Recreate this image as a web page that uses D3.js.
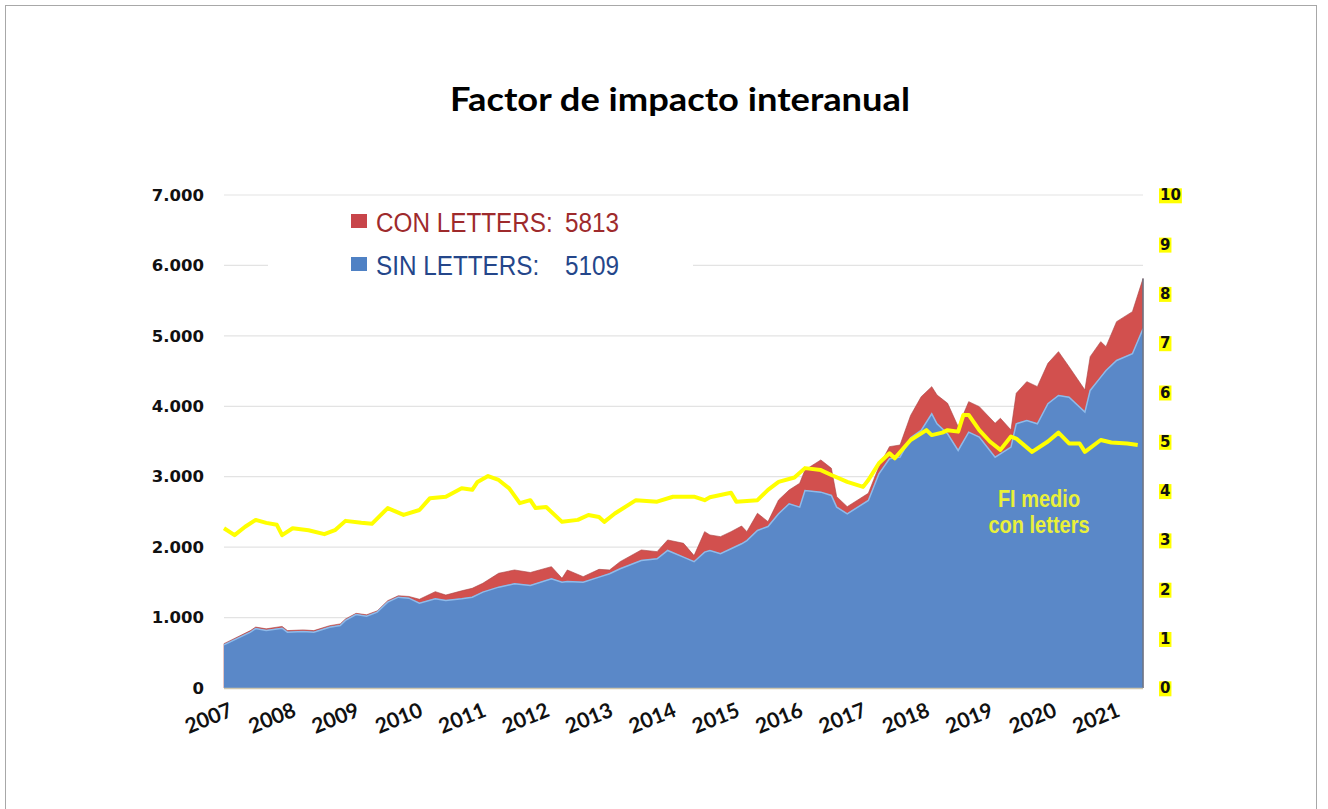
<!DOCTYPE html>
<html>
<head>
<meta charset="utf-8">
<script src="https://cdn.jsdelivr.net/npm/d3@7"></script>
<style>
  body { margin: 0; background: #fff; }
  svg { display: block; }
</style>
</head>
<body>
<div id="chart"></div>
<script>
// meses contados desde enero 2007
var meses = [0,5,6,8,11,12,15,17,20,22, 23,25,27,29,31,33,35,37,40,42,
  45,47,49,52,55,58,62,64,65,68, 71,73,75,79,82,84,87,89,91,92,
  94,96,98,99,101,103,105,107,109,110, 113,115,116,118,120,122,124,126,128,130,
  132,134,135,137,139,141,143,146,147,149, 150,152,154,156,158,160,163,164,166,167,
  169,172,174];

var sinLetters = [620,800,850,823,856,800,810,800,870,895, 966,1050,1027,1084,1226,1297,1283,1210,1274,1250,
  1275,1297,1368,1439,1487,1463,1558,1510,1520,1510, 1581,1629,1700,1818,1841,1960,1865,1800,1936,1960,
  1913,1984,2055,2100,2244,2300,2481,2623,2575,2812, 2788,2741,2575,2481,2575,2670,3049,3262,3285,3560,
  3664,3900,3759,3617,3380,3640,3569,3285,3333,3427, 3759,3805,3759,4043,4160,4136,3924,4232,4421,4516,
  4658,4753,5109];

var conLetters = [630,815,865,840,875,815,825,815,885,910, 980,1060,1040,1095,1240,1310,1300,1260,1368,1320,
  1380,1416,1487,1629,1676,1640,1723,1558,1676,1581, 1685,1676,1794,1960,1936,2102,2055,1880,2220,2173,
  2149,2220,2300,2220,2481,2362,2670,2812,2907,3096, 3238,3120,2717,2575,2670,2765,3143,3427,3450,3870,
  4136,4279,4160,4043,3711,4066,3995,3759,3830,3664, 4185,4350,4279,4611,4776,4562,4232,4705,4918,4847,
  5202,5344,5813];

var mesesFI = [0,2,4,6,8,10,11,13,16,19, 21,23,26,28,31,34,37,39,42,45,
  47,48,50,52,54,56,58,59,61,64, 67,69,71,72,74,78,82,85,89,91,
  92,96,97,101,103,105,108,110,113,115, 118,121,122,124,126,127,130,133,134,136,
  137,139,140,141,143,145,147,149,150,153, 156,158,160,162,163,166,168,171,173];

var fiMedio = [3.24,3.10,3.27,3.41,3.35,3.31,3.10,3.24,3.20,3.12, 3.20,3.39,3.35,3.33,3.65,3.51,3.61,3.85,3.88,4.05,
  4.02,4.18,4.30,4.22,4.05,3.75,3.81,3.65,3.67,3.37, 3.41,3.51,3.47,3.37,3.54,3.81,3.78,3.88,3.88,3.81,
  3.87,3.96,3.78,3.81,4.02,4.18,4.27,4.46,4.42,4.32, 4.18,4.08,4.22,4.56,4.76,4.66,5.03,5.23,5.13,5.18,
  5.23,5.20,5.54,5.54,5.23,5.00,4.83,5.10,5.06,4.79, 5.00,5.18,4.96,4.96,4.79,5.03,4.98,4.96,4.93];

var anios = [2007,2008,2009,2010,2011,2012,2013,2014,2015,2016,2017,2018,2019,2020,2021];
var ticksIzq = [0,1000,2000,3000,4000,5000,6000,7000];
var ticksDer = [0,1,2,3,4,5,6,7,8,9,10];

var W = 1328, H = 809;
var margin = {top: 195, right: 185, bottom: 121, left: 224};

var svg = d3.select("#chart").append("svg")
  .attr("width", W)
  .attr("height", H);

// marco
svg.append("rect")
  .attr("x", 5.5).attr("y", 5.5)
  .attr("width", 1311).attr("height", 830)
  .attr("fill", "none")
  .attr("stroke", "#a8a8a8");

var x = d3.scaleLinear().domain([0, 174]).range([margin.left, W - margin.right]);
var y = d3.scaleLinear().domain([0, 7000]).range([H - margin.bottom, margin.top]);
var y2 = d3.scaleLinear().domain([0, 10]).range([H - margin.bottom, margin.top]);

var es = d3.formatLocale({decimal: ",", thousands: ".", grouping: [3], currency: ["", " €"]});
var narrow = "'Liberation Sans Narrow', 'Arial Narrow', 'Liberation Sans', sans-serif";

// titulo
svg.append("text")
  .attr("x", 680).attr("y", 111)
  .attr("text-anchor", "middle")
  .style("font-family", "Lato, 'Open Sans', sans-serif")
  .style("font-weight", "700")
  .style("font-size", "33px")
  .attr("fill", "#000")
  .text("Factor de impacto interanual")
  .attr("textLength", 460)
  .attr("lengthAdjust", "spacingAndGlyphs");

// rejilla
svg.append("g").selectAll("line")
  .data(ticksIzq.filter(d => d > 0))
  .enter().append("line")
  .attr("x1", x.range()[0]).attr("x2", x.range()[1])
  .attr("y1", d => y(d)).attr("y2", d => y(d))
  .attr("stroke", "#e3e3e3")
  .attr("stroke-width", 1.2);

// eje izquierdo
var ejeIzq = svg.append("g")
  .attr("transform", "translate(" + (margin.left - 20) + ",0)")
  .call(d3.axisLeft(y).tickValues(ticksIzq).tickSize(0).tickPadding(0).tickFormat(es.format(",")));
ejeIzq.select(".domain").remove();
ejeIzq.selectAll("text")
  .style("font-family", "'DejaVu Sans', Verdana, sans-serif")
  .style("font-weight", "bold")
  .style("font-size", "16.5px")
  .attr("fill", "#111");

// eje derecho con fondo amarillo
var ejeDer = svg.append("g")
  .attr("transform", "translate(" + 1160 + ",0)")
  .call(d3.axisRight(y2).tickValues(ticksDer).tickSize(0).tickPadding(0).tickFormat(d3.format("d")));
ejeDer.select(".domain").remove();
ejeDer.selectAll("text")
  .style("font-family", "'DejaVu Sans', Verdana, sans-serif")
  .style("font-weight", "bold")
  .style("font-size", "15px")
  .attr("fill", "#111");
ejeDer.selectAll(".tick").each(function() {
  var t = d3.select(this).select("text");
  var b = t.node().getBBox();
  d3.select(this).insert("rect", "text")
    .attr("x", b.x - 1).attr("y", b.y + 2)
    .attr("width", b.width + 2).attr("height", b.height - 3)
    .attr("fill", "#ffff00");
});

// caja blanca de la leyenda
svg.append("rect")
  .attr("x", 268).attr("y", 202)
  .attr("width", 425).attr("height", 80)
  .attr("fill", "#fff");

// areas
var datos = meses.map((m, i) => ({m: m, con: conLetters[i], sin: sinLetters[i]}));

var areaCon = d3.area()
  .x(d => x(d.m))
  .y0(y(0))
  .y1(d => y(d.con));

var areaSin = d3.area()
  .x(d => x(d.m))
  .y0(y(0))
  .y1(d => y(d.sin));

svg.append("path")
  .datum(datos)
  .attr("d", areaCon)
  .attr("fill", "#d2504e")
  .attr("stroke", "#a84040")
  .attr("stroke-width", 0.6);

svg.append("path")
  .datum(datos)
  .attr("d", areaSin)
  .attr("fill", "#5a88c8");

// borde claro arriba del azul
svg.append("path")
  .datum(datos)
  .attr("d", d3.line().x(d => x(d.m)).y(d => y(d.sin) + 0.5))
  .attr("fill", "none")
  .attr("stroke", "#8ebbea")
  .attr("stroke-width", 1.5);

// borde derecho
var ult = datos[datos.length - 1];
svg.append("line")
  .attr("x1", x(ult.m)).attr("x2", x(ult.m))
  .attr("y1", y(ult.con)).attr("y2", y(0))
  .attr("stroke", "#6b7686")
  .attr("stroke-width", 1.5);

// linea base
svg.append("line")
  .attr("x1", x.range()[0]).attr("x2", x.range()[1])
  .attr("y1", y(0) + 0.5).attr("y2", y(0) + 0.5)
  .attr("stroke", "#cfc6ad")
  .attr("stroke-width", 1.5);

// FI medio
var datosFI = mesesFI.map((m, i) => ({m: m, v: fiMedio[i]}));
svg.append("path")
  .datum(datosFI)
  .attr("d", d3.line().x(d => x(d.m)).y(d => y2(d.v)))
  .attr("fill", "none")
  .attr("stroke", "#ffff00")
  .attr("stroke-width", 4)
  .attr("stroke-linejoin", "round");

// eje x
var ejeX = svg.append("g")
  .attr("transform", "translate(0," + (y(0) + 14) + ")")
  .call(d3.axisBottom(x).tickValues(anios.map(a => (a - 2007) * 12)).tickSize(0).tickPadding(0)
    .tickFormat((d, i) => anios[i]));
ejeX.select(".domain").remove();
ejeX.selectAll("text")
  .attr("text-anchor", "end")
  .attr("dy", "0.7em")
  .attr("transform", "translate(4,0) rotate(-22)")
  .style("font-family", "Lato, 'Open Sans', sans-serif")
  .style("font-weight", "700")
  .style("font-size", "21px")
  .attr("fill", "#111");

// leyenda (texto estrechado con scale, como una fuente narrow)
var leyenda = [
  {nombre: "CON LETTERS:", valor: conLetters[conLetters.length - 1], cuadro: "#c8454a", texto: "#9e2a2c"},
  {nombre: "SIN LETTERS:", valor: sinLetters[sinLetters.length - 1], cuadro: "#4f81c4", texto: "#24468a"}
];
var lg = svg.append("g").selectAll("g")
  .data(leyenda).enter().append("g")
  .attr("transform", (d, i) => "translate(351," + (213 + i * 43) + ")");
lg.append("rect")
  .attr("width", 16).attr("height", 14).attr("y", 1)
  .attr("fill", d => d.cuadro);
lg.append("g")
  .attr("transform", "translate(25,19) scale(0.9,1)")
  .append("text")
  .style("font-family", narrow)
  .style("font-size", "27px")
  .attr("fill", d => d.texto)
  .text(d => d.nombre);
lg.append("g")
  .attr("transform", "translate(268,19) scale(0.9,1)")
  .append("text")
  .attr("text-anchor", "end")
  .style("font-family", narrow)
  .style("font-size", "27px")
  .attr("fill", d => d.texto)
  .text(d => d.valor);

// anotacion
svg.append("g")
  .selectAll("g")
  .data(["FI medio", "con letters"])
  .enter().append("g")
  .attr("transform", (d, i) => "translate(1039," + (507 + i * 26) + ") scale(0.87,1)")
  .append("text")
  .attr("text-anchor", "middle")
  .style("font-family", narrow)
  .style("font-weight", "bold")
  .style("font-size", "23px")
  .attr("fill", "#e9f03a")
  .text(d => d);
</script>
</body>
</html>
